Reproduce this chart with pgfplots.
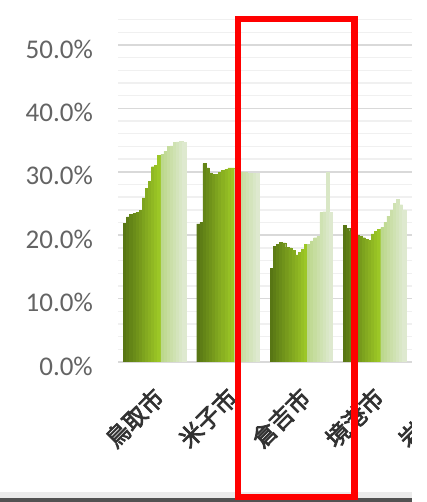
\documentclass[border=0pt]{standalone}
\usepackage{pgfplots}
\pgfplotsset{compat=1.18}
\usepackage{pgfplotstable}
\usepackage{fontspec}
\setmainfont{Carlito}
\newfontfamily\cjk{Noto Sans CJK JP}[FakeBold=3]
\definecolor{dk}{RGB}{88,118,20}
\definecolor{br}{RGB}{156,199,38}
\definecolor{lt}{RGB}{188,216,140}
\definecolor{pl}{RGB}{222,233,207}
\definecolor{ylab}{RGB}{100,100,100}
\definecolor{xlab}{RGB}{50,50,50}
\colorlet{c0}{dk}
\colorlet{c1}{br!9!dk}
\colorlet{c2}{br!18!dk}
\colorlet{c3}{br!27!dk}
\colorlet{c4}{br!36!dk}
\colorlet{c5}{br!45!dk}
\colorlet{c6}{br!55!dk}
\colorlet{c7}{br!64!dk}
\colorlet{c8}{br!73!dk}
\colorlet{c9}{br!82!dk}
\colorlet{c10}{br!91!dk}
\colorlet{c11}{br}
\colorlet{c12}{lt}
\colorlet{c13}{pl!14!lt}
\colorlet{c14}{pl!29!lt}
\colorlet{c15}{pl!43!lt}
\colorlet{c16}{pl!57!lt}
\colorlet{c17}{pl!71!lt}
\colorlet{c18}{pl!86!lt}
\colorlet{c19}{pl}
\pgfplotstableread{
g b0 b1 b2 b3 b4 b5 b6 b7 b8 b9 b10 b11 b12 b13 b14 b15 b16 b17 b18 b19
0 21.9 22.9 23.3 23.4 23.6 23.9 25.9 27.4 28.5 30.8 31.0 32.6 32.8 33.2 34.0 34.1 34.6 34.7 34.8 34.6
1 21.8 22.0 31.3 30.6 29.8 29.6 29.6 29.9 30.2 30.4 30.6 30.6 30.4 30.2 30.0 29.9 29.8 29.8 29.7 29.7
2 14.8 18.2 18.5 18.9 18.8 18.1 18.0 17.6 16.9 17.3 17.8 18.5 18.6 19.1 19.6 19.8 23.6 23.7 29.9 23.6
3 21.6 21.1 20.6 20.3 20.0 19.8 19.6 19.3 19.2 20.2 20.6 20.9 21.2 22.0 23.0 24.0 25.0 25.6 24.8 24.0
}\data
\begin{document}
\begin{tikzpicture}[x=1pt,y=1pt]
\useasboundingbox (0,0) rectangle (427,502);
\begin{scope}
\clip (0,0) rectangle (412,502);
\begin{axis}[
  at={(118pt,140pt)}, anchor=south west,
  scale only axis, width=366.5pt, height=351.9pt,
  xmin=-0.5, xmax=4.5, ymin=0, ymax=55.5,
  ybar, bar width=0.0445, bar shift=0pt,
  axis line style={draw=none},
  major tick length=0pt, minor tick length=0pt,
  ymajorgrids, yminorgrids,
  major grid style={draw=black!15, line width=1.6pt},
  minor grid style={draw=black!6, line width=1.4pt},
  ytick={0,10,20,30,40,50},
  yticklabels={0.0\%,10.0\%,20.0\%,30.0\%,40.0\%,50.0\%},
  minor ytick={2,4,6,8,12,14,16,18,22,24,26,28,32,34,36,38,42,44,46,48,52,54},
  yticklabel style={anchor=east, inner sep=0pt, xshift=-25pt, yshift=-4pt,
    font=\fontsize{27}{27}\selectfont, text=ylab},
  xtick={0,1,2,3,4},
  xticklabels={鳥取市,米子市,倉吉市,境港市,岩美町},
  xticklabel style={xshift=5pt, yshift=-31pt, rotate=45, anchor=east, inner sep=0pt,
    font=\cjk\fontsize{23.5}{23.5}\selectfont, text=xlab},
]
\pgfplotsinvokeforeach{0,...,19}{
  \addplot[fill=c#1, draw=c#1, line width=0.4pt] table[x expr=\thisrow{g}+(#1-9.5)*0.0425, y=b#1]{\data};
}
\end{axis}
\end{scope}
\fill[white] (412,0) rectangle (427,502);
\fill[black!8] (0,4) rectangle (412,10);
\fill[black!68] (0,0) rectangle (412,3.5);
\draw[red, line width=6.5pt] (238,483) rectangle (354.5,5);
\end{tikzpicture}
\end{document}
